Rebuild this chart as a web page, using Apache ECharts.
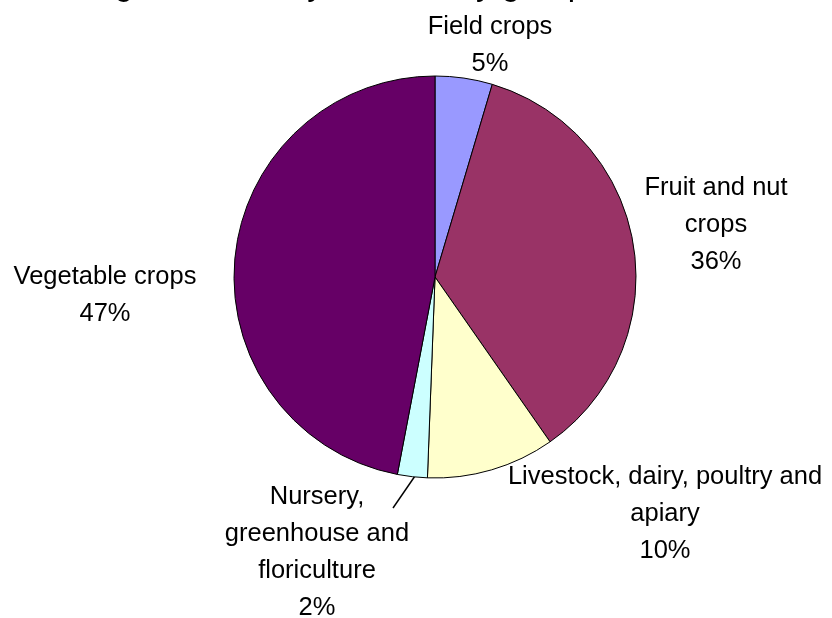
<!DOCTYPE html>
<html>
<head>
<meta charset="utf-8">
<script src="https://cdn.jsdelivr.net/npm/echarts@6/dist/echarts.min.js"></script>
<style>
html,body{margin:0;padding:0;background:#fff;}
#chart{width:832px;height:618px;}
</style>
</head>
<body>
<div id="chart"></div>
<script>
var titleText = 'Organic sales by commodity group';
var categories = ['Field crops', 'Fruit and nut\ncrops', 'Livestock, dairy, poultry and\napiary', 'Nursery,\ngreenhouse and\nfloriculture', 'Vegetable crops'];
var values = [4.6, 35.7, 10.3, 2.4, 47.0];
var colors = ['#9999FF', '#993366', '#FFFFCC', '#CCFFFF', '#660066'];

// label block centres (layout only)
var labelCenters = [[490, 45], [716, 225], [665, 514], [317, 552], [105, 295]];

var chart = echarts.init(document.getElementById('chart'), null, {renderer: 'canvas'});
var data = categories.map(function (c, i) {
  return {
    name: c,
    value: values[i],
    itemStyle: {color: colors[i]},
    labelLine: {show: i === 3, lineStyle: {color: '#000', width: 1.5}}
  };
});

chart.setOption({
  animation: false,
  backgroundColor: '#fff',
  graphic: [{
    type: 'text',
    left: 78,
    top: -31,
    style: {
      text: titleText,
      font: '33px "Liberation Sans", Arial, sans-serif',
      fill: '#000'
    }
  }],
  series: [{
    type: 'pie',
    center: [435, 277],
    radius: 201,
    startAngle: 90,
    clockwise: true,
    percentPrecision: 0,
    data: data,
    itemStyle: {borderColor: '#000', borderWidth: 1},
    emphasis: {disabled: true},
    label: {
      show: true,
      position: 'outside',
      formatter: function (p) { return p.name + '\n' + p.percent + '%'; },
      fontFamily: '"Liberation Sans", Arial, sans-serif',
      fontSize: 25.5,
      lineHeight: 37,
      color: '#000',
      align: 'center',
      overflow: 'none',
      width: 400
    },
    labelLine: {show: false},
    labelLayout: function (params) {
      var i = params.dataIndex;
      var res = {
        x: labelCenters[i][0],
        y: labelCenters[i][1],
        align: 'center',
        verticalAlign: 'middle'
      };
      if (i === 3) {
        res.labelLinePoints = [[415, 476], [404, 492], [393, 508]];
      }
      return res;
    }
  }]
});
</script>
</body>
</html>
